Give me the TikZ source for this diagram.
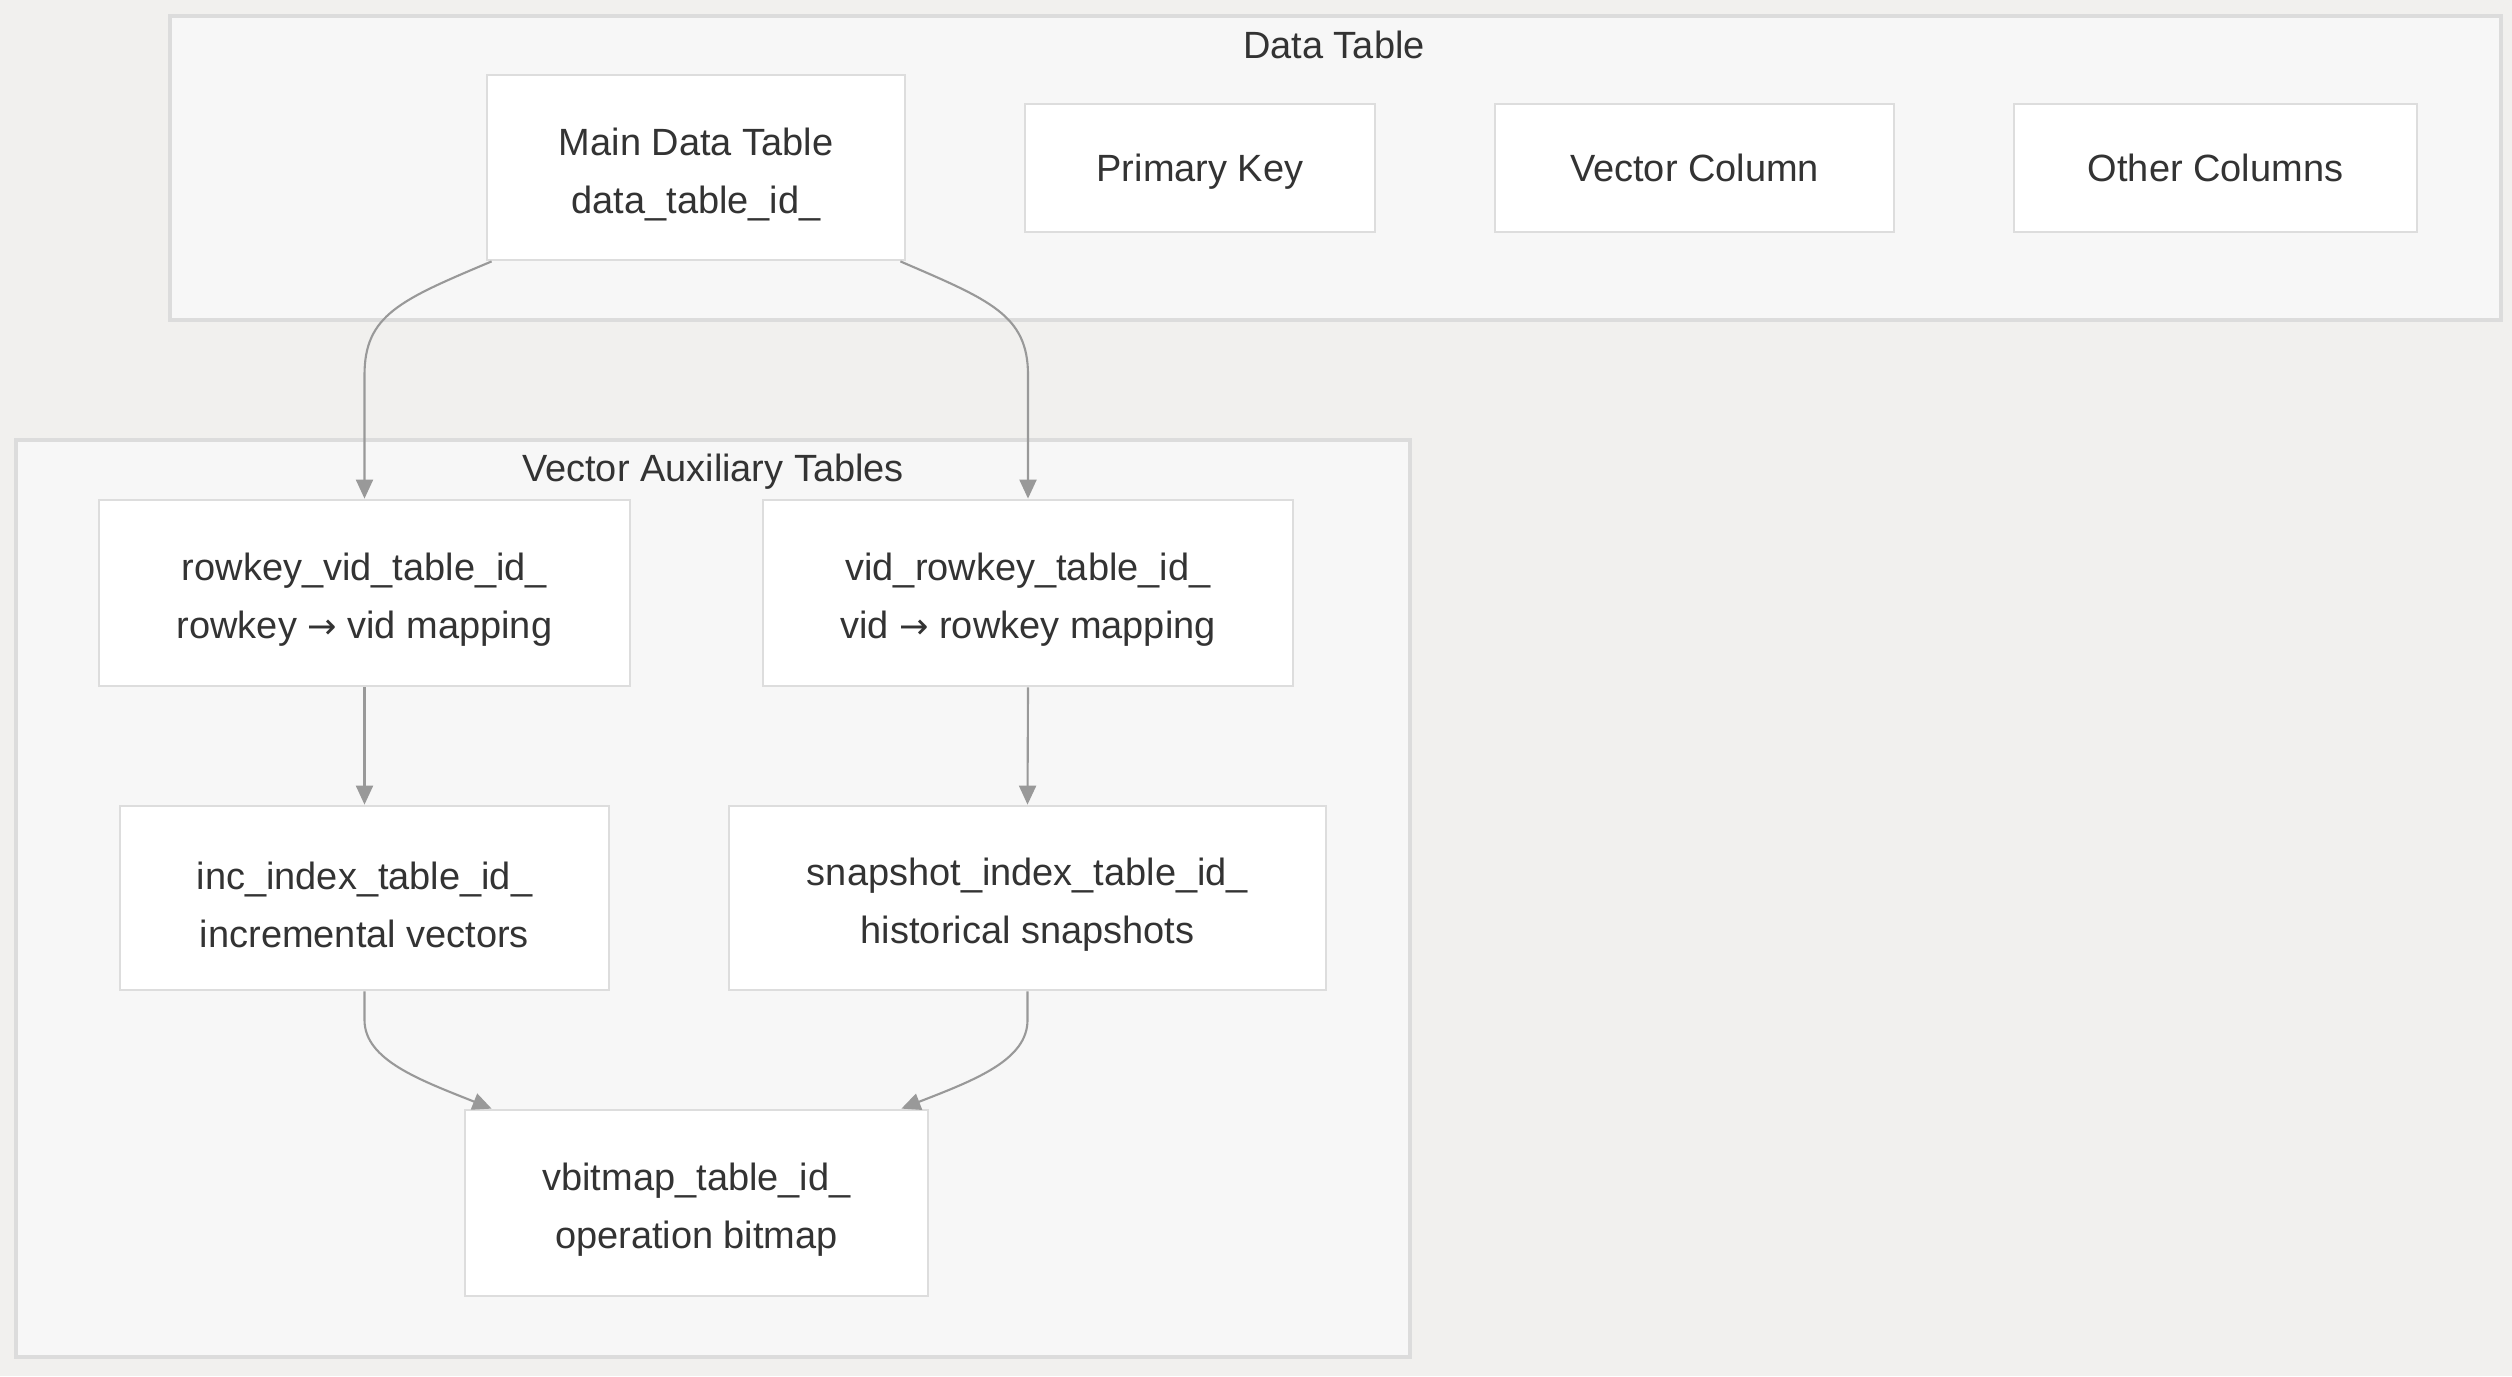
\documentclass[tikz,border=0pt]{standalone}
\usepackage{fontspec}
\setmainfont{Liberation Sans}
\newfontfamily\arrfont{DejaVu Sans}
\usetikzlibrary{arrows.meta}
\definecolor{bgc}{HTML}{F1F0EE}
\definecolor{clfill}{HTML}{F7F7F7}
\definecolor{clline}{HTML}{DCDCDC}
\definecolor{boxline}{HTML}{DDDDDD}
\definecolor{txt}{HTML}{333333}
\definecolor{edgec}{HTML}{999999}
\newcommand\tstr{\rule{0pt}{0.41cm}}
\newcommand\sstr{\rule[-0.1cm]{0pt}{0.47cm}}
\newcommand\rarr{{\arrfont\fontsize{10}{10}\selectfont →}}
\tikzset{
  cluster/.style={draw=clline, fill=clfill, line width=0.9pt},
  tbox/.style={draw=boxline, fill=white, line width=0.8pt, text=txt, align=center,
    font=\fontsize{10.8}{16.5}\selectfont, inner sep=0pt},
  ctitle/.style={text=txt, font=\fontsize{10.8}{13}\selectfont, inner sep=0pt},
  edge/.style={draw=edgec, line width=0.6pt, -{Triangle[length=0.19cm,width=0.17cm]}},
}
\begin{document}
\begin{tikzpicture}
\fill[bgc] (0,0) rectangle (25.12,-13.76);
\useasboundingbox (0,0) rectangle (25.12,-13.76);
% clusters
\draw[cluster] (1.70,-0.16) rectangle (25.01,-3.20);
\node[ctitle] (t1) at (13.34,-0.45) {Data Table};
\draw[cluster] (0.16,-4.40) rectangle (14.10,-13.57);
\node[ctitle] (t2) at (7.13,-4.72) {Vector Auxiliary Tables};
% nodes
\node[tbox, minimum width=4.18cm, minimum height=1.85cm] (main) at (6.96,-1.675) {\tstr Main Data Table\\data\_table\_id\_};
\node[tbox, minimum width=3.50cm, minimum height=1.28cm] (pk) at (12.00,-1.68) {\sstr Primary Key};
\node[tbox, minimum width=3.99cm, minimum height=1.28cm] (vc) at (16.945,-1.68) {\sstr Vector Column};
\node[tbox, minimum width=4.03cm, minimum height=1.28cm] (oc) at (22.155,-1.68) {\sstr Other Columns};
\node[tbox, minimum width=5.31cm, minimum height=1.86cm] (rv) at (3.645,-5.93) {\tstr rowkey\_vid\_table\_id\_\\rowkey \rarr{} vid mapping};
\node[tbox, minimum width=5.30cm, minimum height=1.86cm] (vr) at (10.28,-5.93) {\tstr vid\_rowkey\_table\_id\_\\vid \rarr{} rowkey mapping};
\node[tbox, minimum width=4.89cm, minimum height=1.84cm] (inc) at (3.645,-8.98) {\tstr inc\_index\_table\_id\_\\incremental vectors};
\node[tbox, minimum width=5.97cm, minimum height=1.84cm] (snap) at (10.275,-8.98) {\tstr snapshot\_index\_table\_id\_\\historical snapshots};
\node[tbox, minimum width=4.63cm, minimum height=1.86cm] (vb) at (6.965,-12.03) {\tstr vbitmap\_table\_id\_\\operation bitmap};
% edges
\draw[edge] ([xshift=0.06cm]main.south west) .. controls (4.0,-3.0) and (3.645,-3.15) .. (3.645,-3.75) -- (rv.north);
\draw[edge] ([xshift=-0.06cm]main.south east) .. controls (9.9,-3.0) and (10.28,-3.15) .. (10.28,-3.75) -- (vr.north);
\draw[edge] (rv.south) -- (inc.north);
\draw[edge] (vr.south) -- (snap.north);
\draw[edge] (inc.south) -- (3.645,-10.2) .. controls (3.645,-10.6) and (4.2,-10.8) .. ([xshift=0.28cm]vb.north west);
\draw[edge] (snap.south) -- (10.275,-10.2) .. controls (10.275,-10.6) and (9.75,-10.8) .. ([xshift=-0.28cm]vb.north east);
\end{tikzpicture}
\end{document}
